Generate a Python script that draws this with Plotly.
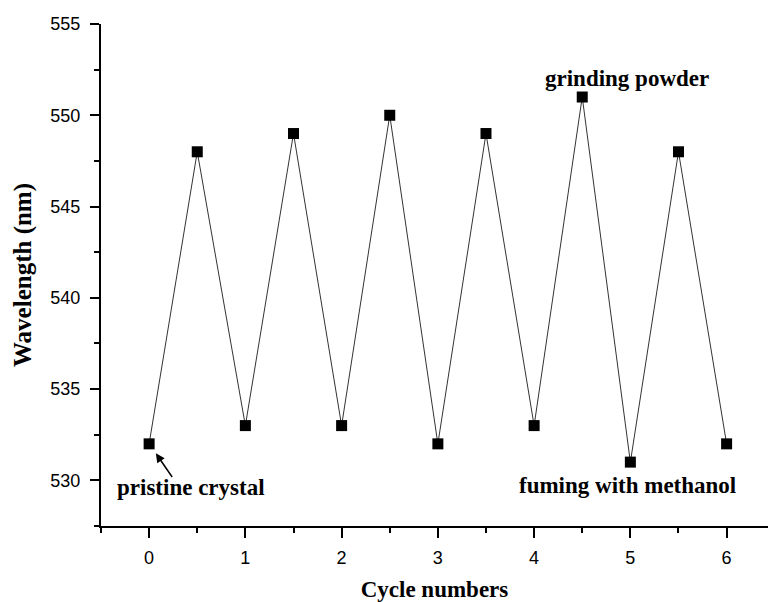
import plotly.graph_objects as go

cycles = [0, 0.5, 1, 1.5, 2, 2.5, 3, 3.5, 4, 4.5, 5, 5.5, 6]
wavelength = [532, 548, 533, 549, 533, 550, 532, 549, 533, 551, 531, 548, 532]
x_ticks = [0, 1, 2, 3, 4, 5, 6]
y_ticks = [530, 535, 540, 545, 550, 555]

serif = "Liberation Serif, Times New Roman, serif"
sans = "Liberation Sans, Arial, sans-serif"

fig = go.Figure()
fig.add_trace(go.Scatter(
    x=cycles, y=wavelength, mode="lines+markers",
    line=dict(color="#333333", width=1),
    marker=dict(symbol="square", size=11, color="black"),
    showlegend=False,
))

fig.add_annotation(x=0.07, y=531.48, ax=0.25, ay=530.1, xref="x", yref="y", axref="x", ayref="y",
                   text="", showarrow=True, arrowhead=2, arrowsize=1.2, arrowwidth=1.5,
                   arrowcolor="black", standoff=0)
fig.add_annotation(x=0.43, y=529.6, xref="x", yref="y", text="<b>pristine crystal</b>",
                   showarrow=False, font=dict(family=serif, size=23, color="black"))
fig.add_annotation(x=4.97, y=552.0, xref="x", yref="y", text="<b>grinding powder</b>",
                   showarrow=False, font=dict(family=serif, size=23, color="black"))
fig.add_annotation(x=4.97, y=529.7, xref="x", yref="y", text="<b>fuming with methanol</b>",
                   showarrow=False, font=dict(family=serif, size=23, color="black"))

fig.update_layout(
    width=768, height=602,
    margin=dict(l=101, r=0, t=24, b=76),
    paper_bgcolor="white", plot_bgcolor="white",
    font=dict(family=sans, color="black"),
    xaxis=dict(
        range=[-0.5, 6.43], tickvals=x_ticks, ticks="outside", ticklen=10, tickwidth=2,
        tickcolor="black", showline=True, linecolor="black", linewidth=2,
        showgrid=False, zeroline=False, tickfont=dict(size=18, family=sans),
        ticklabelstandoff=4,
        minor=dict(dtick=0.5, tick0=0, ticks="outside", ticklen=5, tickwidth=2, tickcolor="black"),
        title=dict(text="<b>Cycle numbers</b>", font=dict(family=serif, size=23), standoff=18),
    ),
    yaxis=dict(
        range=[527.5, 555], tickvals=y_ticks, ticks="outside", ticklen=9, tickwidth=2,
        tickcolor="black", showline=True, linecolor="black", linewidth=2,
        showgrid=False, zeroline=False, tickfont=dict(size=18, family=sans),
        ticklabelstandoff=6,
        minor=dict(dtick=2.5, tick0=530, ticks="outside", ticklen=5, tickwidth=2, tickcolor="black"),
        title=dict(text="<b>Wavelength (nm)</b>", font=dict(family=serif, size=25), standoff=12),
    ),
)

fig.write_html("out.html")
